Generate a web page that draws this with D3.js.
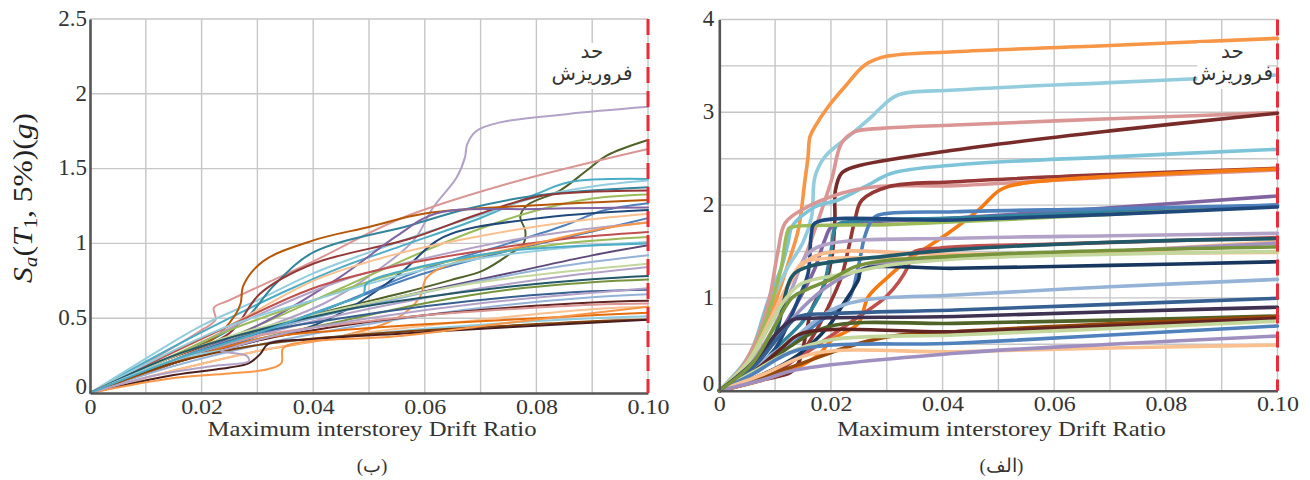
<!DOCTYPE html>
<html><head><meta charset="utf-8">
<script src="https://cdn.jsdelivr.net/npm/d3@7"></script>
<style>body{margin:0;background:#fff}svg{display:block}</style>
</head><body>
<svg id="chart" width="1310" height="480"></svg>
<script>
// ---------- data ----------
const xTicks = [0, 0.02, 0.04, 0.06, 0.08, 0.10];
const xGrid = [0.01, 0.02, 0.03, 0.04, 0.05, 0.06, 0.07, 0.08, 0.09, 0.10];
const leftYTicks = [0, 0.5, 1, 1.5, 2, 2.5];
const rightYTicks = [0, 1, 2, 3, 4];
const rightYGrid = [0.5, 1, 1.5, 2, 2.5, 3, 3.5, 4];
const collapseLimit = 0.10;
const xTitle = "Maximum interstorey Drift Ratio";
const collapseLabel = ["حد", "فروریزش"];
const panelLabels = ["(ب)", "(الف)"];

const leftSeries = [
 [[0,0],[0.015,0.22],[0.03,0.42],[0.042,0.6],[0.05,0.78],[0.058,1.02],[0.0615,1.24],[0.0657,1.44],[0.0672,1.575],[0.0676,1.664],[0.0693,1.753],[0.0735,1.809],[0.0854,1.864],[0.1,1.913]],
 [[0,0],[0.012,0.18],[0.025,0.35],[0.035,0.47],[0.045,0.57],[0.0556,0.665],[0.0645,0.753],[0.0705,0.82],[0.0753,0.931],[0.0777,0.998],[0.078,1.087],[0.0771,1.176],[0.0783,1.253],[0.0842,1.353],[0.089,1.487],[0.0926,1.587],[0.1,1.691]],
 [[0,0],[0.01,0.2],[0.02,0.42],[0.0225,0.49],[0.0222,0.57],[0.025,0.62],[0.04,0.88],[0.0556,1.165],[0.075,1.4],[0.1,1.631]],
 [[0,0],[0.012,0.25],[0.025,0.5],[0.035,0.68],[0.045,0.84],[0.0556,0.98],[0.07,1.17],[0.08,1.33],[0.086,1.41],[0.1,1.431]],
 [[0,0],[0.01,0.23],[0.02,0.45],[0.03,0.62],[0.04,0.8],[0.05,0.94],[0.06,1.07],[0.07,1.19],[0.08,1.31],[0.09,1.38],[0.1,1.42]],
 [[0,0],[0.012,0.2],[0.022,0.36],[0.028,0.5],[0.033,0.72],[0.04,0.94],[0.0573,1.12],[0.0675,1.23],[0.08,1.32],[0.1,1.376]],
 [[0,0],[0.012,0.2],[0.025,0.4],[0.0305,0.665],[0.04,0.864],[0.0573,1.031],[0.07,1.2],[0.0812,1.32],[0.1,1.353]],
 [[0,0],[0.015,0.22],[0.03,0.45],[0.045,0.7],[0.06,0.95],[0.07,1.1],[0.08,1.22],[0.09,1.3],[0.1,1.327]],
 [[0,0],[0.012,0.2],[0.022,0.36],[0.026,0.52],[0.027,0.6],[0.0275,0.72],[0.031,0.88],[0.04,1.02],[0.05,1.11],[0.06,1.2],[0.08,1.255],[0.1,1.29]],
 [[0,0],[0.015,0.2],[0.03,0.38],[0.045,0.6],[0.06,0.83],[0.075,1.0],[0.085,1.12],[0.092,1.22],[0.1,1.269]],
 [[0,0],[0.015,0.22],[0.03,0.45],[0.045,0.78],[0.055,1.05],[0.062,1.2],[0.08,1.23],[0.1,1.24]],
 [[0,0],[0.015,0.2],[0.03,0.35],[0.04,0.45],[0.048,0.6],[0.0556,0.8],[0.0633,1.042],[0.0794,1.164],[0.1,1.224]],
 [[0,0],[0.012,0.22],[0.025,0.45],[0.04,0.75],[0.055,0.93],[0.07,1.05],[0.085,1.14],[0.1,1.198]],
 [[0,0],[0.015,0.2],[0.03,0.4],[0.045,0.6],[0.06,0.8],[0.075,0.95],[0.09,1.08],[0.1,1.169]],
 [[0,0],[0.015,0.25],[0.03,0.52],[0.045,0.75],[0.06,0.9],[0.08,1.05],[0.1,1.142]],
 [[0,0],[0.012,0.22],[0.025,0.45],[0.04,0.7],[0.055,0.85],[0.07,0.95],[0.085,1.03],[0.1,1.076]],
 [[0,0],[0.015,0.15],[0.03,0.28],[0.045,0.38],[0.055,0.5],[0.0591,0.64],[0.0603,0.77],[0.0645,0.86],[0.08,1.0],[0.092,1.1],[0.1,1.14]],
 [[0,0],[0.012,0.2],[0.025,0.42],[0.04,0.62],[0.055,0.8],[0.07,0.92],[0.085,1.0],[0.1,1.042]],
 [[0,0],[0.012,0.23],[0.025,0.45],[0.04,0.62],[0.055,0.78],[0.07,0.9],[0.085,0.97],[0.1,1.009]],
 [[0,0],[0.015,0.2],[0.03,0.4],[0.045,0.55],[0.06,0.68],[0.075,0.8],[0.09,0.92],[0.1,0.987]],
 [[0,0],[0.012,0.18],[0.025,0.35],[0.04,0.5],[0.055,0.63],[0.07,0.75],[0.085,0.85],[0.1,0.92]],
 [[0,0],[0.012,0.2],[0.025,0.38],[0.04,0.52],[0.055,0.64],[0.07,0.74],[0.085,0.81],[0.1,0.864]],
 [[0,0],[0.012,0.18],[0.025,0.33],[0.04,0.48],[0.055,0.6],[0.07,0.7],[0.085,0.78],[0.1,0.842]],
 [[0,0],[0.015,0.25],[0.03,0.42],[0.045,0.55],[0.06,0.64],[0.075,0.71],[0.09,0.76],[0.1,0.782]],
 [[0,0],[0.015,0.2],[0.03,0.36],[0.045,0.48],[0.06,0.6],[0.075,0.69],[0.09,0.74],[0.1,0.758]],
 [[0,0],[0.015,0.22],[0.03,0.4],[0.045,0.5],[0.06,0.58],[0.075,0.64],[0.09,0.68],[0.1,0.691]],
 [[0,0],[0.015,0.18],[0.03,0.32],[0.045,0.43],[0.06,0.52],[0.075,0.59],[0.09,0.64],[0.1,0.66]],
 [[0,0],[0.015,0.2],[0.03,0.35],[0.045,0.45],[0.06,0.52],[0.075,0.57],[0.09,0.605],[0.1,0.616]],
 [[0,0],[0.015,0.22],[0.03,0.38],[0.045,0.46],[0.06,0.52],[0.075,0.56],[0.09,0.59],[0.1,0.598]],
 [[0,0],[0.015,0.15],[0.03,0.28],[0.045,0.38],[0.06,0.45],[0.075,0.51],[0.09,0.56],[0.1,0.576]],
 [[0,0],[0.015,0.2],[0.03,0.36],[0.045,0.42],[0.06,0.46],[0.075,0.49],[0.09,0.52],[0.1,0.536]],
 [[0,0],[0.015,0.22],[0.03,0.32],[0.045,0.38],[0.06,0.43],[0.075,0.47],[0.09,0.5],[0.1,0.513]],
 [[0,0],[0.015,0.2],[0.03,0.32],[0.045,0.38],[0.06,0.42],[0.075,0.45],[0.09,0.48],[0.1,0.491]],
 [[0,0],[0.015,0.12],[0.025,0.17],[0.0285,0.2],[0.0305,0.26],[0.032,0.33],[0.04,0.36],[0.057,0.4],[0.075,0.44],[0.1,0.489]],
 [[0,0],[0.015,0.1],[0.025,0.13],[0.032,0.16],[0.0343,0.2],[0.0346,0.3],[0.038,0.34],[0.055,0.38],[0.075,0.47],[0.1,0.576]],
 [[0,0],[0.012,0.12],[0.022,0.18],[0.0285,0.215],[0.028,0.25],[0.0235,0.28],[0.025,0.3],[0.035,0.4],[0.05,0.5],[0.07,0.6],[0.1,0.7]],
 [[0,0],[0.015,0.22],[0.03,0.4],[0.045,0.6],[0.049,0.66],[0.0495,0.73],[0.06,0.85],[0.075,0.95],[0.1,1.0]]
];
const leftColors = [
 "#B3A2C7","#4F6228","#D99694","#4BACC6","#93CDDD","#31859C","#953735","#9BBB59","#B65708","#4F81BD",
 "#8064A2","#1F497D","#FAC090","#4A7EBB","#B3A2C7","#C0504D","#F79646","#9BBB59","#93CDDD","#5F497A",
 "#95B3D7","#C3D69B","#B3A2C7","#215968","#77933C","#376092","#95B3D7","#632523","#D99694","#FAC090",
 "#E46C0A","#93CDDD","#7F3F0A","#4B1E1E","#F79646","#B3A2C7","#4BACC6"
];

const rightSeries = [
 [[0,0],[0.004,0.2],[0.007,0.5],[0.01,0.95],[0.0125,1.4],[0.01415,1.732],[0.01535,2.27],[0.0159,2.52],[0.01624,2.737],[0.01714,2.845],[0.0195,3.06],[0.0225,3.276],[0.0261,3.51],[0.0297,3.6],[0.0422,3.653],[0.07,3.72],[0.1,3.797]],
 [[0,0],[0.005,0.35],[0.0085,0.85],[0.012,1.3],[0.015,1.6],[0.01654,1.875],[0.01714,2.306],[0.0189,2.52],[0.0231,2.737],[0.0273,2.953],[0.0285,3.025],[0.032,3.186],[0.0422,3.24],[0.07,3.32],[0.1,3.402]],
 [[0,0],[0.005,0.3],[0.009,0.75],[0.012,1.1],[0.015,1.4],[0.0171,1.732],[0.0201,2.27],[0.0219,2.666],[0.0243,2.791],[0.0291,2.827],[0.0422,2.863],[0.07,2.93],[0.1,2.996]],
 [[0,0],[0.008,0.12],[0.0128,0.2],[0.0142,0.3],[0.0155,0.6],[0.0165,0.87],[0.0189,1.157],[0.0201,1.41],[0.0207,1.84],[0.0208,2.16],[0.0219,2.343],[0.0243,2.414],[0.0422,2.594],[0.07,2.8],[0.1,2.99]],
 [[0,0],[0.004,0.25],[0.0052,0.33],[0.0088,0.98],[0.0112,1.34],[0.01235,1.6],[0.013,1.767],[0.0171,1.98],[0.0213,2.055],[0.0261,2.198],[0.0309,2.343],[0.0422,2.432],[0.07,2.52],[0.1,2.601]],
 [[0,0],[0.004,0.25],[0.007,0.6],[0.009,1.0],[0.0105,1.5],[0.01176,1.804],[0.01475,1.947],[0.0219,2.127],[0.0279,2.198],[0.0422,2.21],[0.07,2.3],[0.1,2.38]],
 [[0,0],[0.008,0.14],[0.0141,0.37],[0.0171,0.62],[0.0195,0.9],[0.0219,1.23],[0.0231,1.52],[0.0243,1.84],[0.0255,2.05],[0.0303,2.198],[0.0422,2.252],[0.07,2.33],[0.1,2.396]],
 [[0,0],[0.008,0.12],[0.014,0.25],[0.018,0.4],[0.0201,0.546],[0.0249,0.726],[0.0267,1.013],[0.0303,1.229],[0.0338,1.408],[0.041,1.696],[0.0465,1.95],[0.0503,2.163],[0.0544,2.235],[0.1,2.39]],
 [[0,0],[0.006,0.25],[0.01,0.55],[0.014,0.95],[0.017,1.3],[0.0189,1.624],[0.0201,1.767],[0.0231,1.804],[0.0422,1.86],[0.07,1.97],[0.1,2.098]],
 [[0,0],[0.006,0.2],[0.01,0.45],[0.015,0.75],[0.0185,1.1],[0.02,1.5],[0.021,1.78],[0.025,1.83],[0.0422,1.86],[0.07,1.93],[0.1,2.001]],
 [[0,0],[0.005,0.3],[0.008,0.7],[0.011,1.3],[0.0125,1.75],[0.0135,1.77],[0.03,1.79],[0.0422,1.82],[0.07,1.9],[0.1,1.995]],
 [[0,0],[0.006,0.18],[0.012,0.45],[0.018,0.75],[0.0231,0.977],[0.0249,1.336],[0.026,1.65],[0.0273,1.84],[0.0285,1.893],[0.0422,1.929],[0.07,1.96],[0.1,2.0]],
 [[0,0],[0.006,0.2],[0.01,0.45],[0.0141,0.977],[0.0159,1.265],[0.0165,1.696],[0.0171,1.804],[0.0422,1.84],[0.07,1.9],[0.1,1.98]],
 [[0,0],[0.005,0.25],[0.009,0.6],[0.013,1.1],[0.0159,1.48],[0.0201,1.588],[0.0422,1.642],[0.07,1.67],[0.1,1.696]],
 [[0,0],[0.008,0.18],[0.014,0.35],[0.019,0.55],[0.025,0.8],[0.03,1.02],[0.0338,1.336],[0.0345,1.48],[0.04,1.54],[0.06,1.58],[0.1,1.65]],
 [[0,0],[0.005,0.3],[0.009,0.7],[0.012,1.1],[0.0148,1.373],[0.018,1.42],[0.0422,1.427],[0.07,1.5],[0.1,1.606]],
 [[0,0],[0.006,0.25],[0.01,0.55],[0.015,0.9],[0.02,1.15],[0.025,1.3],[0.03,1.38],[0.0422,1.43],[0.07,1.5],[0.1,1.59]],
 [[0,0],[0.005,0.3],[0.009,0.75],[0.013,1.2],[0.0171,1.45],[0.0422,1.47],[0.1,1.491]],
 [[0,0],[0.006,0.25],[0.01,0.6],[0.013,1.229],[0.0159,1.336],[0.03,1.45],[0.0422,1.52],[0.07,1.6],[0.1,1.64]],
 [[0,0],[0.008,0.18],[0.014,0.38],[0.0195,0.69],[0.0219,0.905],[0.0249,1.193],[0.0255,1.3],[0.0422,1.319],[0.07,1.35],[0.1,1.39]],
 [[0,0],[0.005,0.3],[0.009,0.7],[0.012,1.0],[0.0148,1.157],[0.0231,1.265],[0.03,1.35],[0.0422,1.42],[0.07,1.47],[0.1,1.5]],
 [[0,0],[0.006,0.25],[0.012,0.5],[0.0201,0.87],[0.0261,0.977],[0.0422,1.031],[0.07,1.12],[0.1,1.2]],
 [[0,0],[0.006,0.25],[0.0112,0.618],[0.0141,0.797],[0.02,0.83],[0.0422,0.87],[0.07,0.93],[0.1,0.996]],
 [[0,0],[0.006,0.2],[0.012,0.45],[0.0195,0.69],[0.0422,0.726],[0.07,0.76],[0.1,0.805]],
 [[0,0],[0.008,0.15],[0.015,0.3],[0.0231,0.474],[0.03,0.58],[0.0422,0.636],[0.07,0.72],[0.1,0.8]],
 [[0,0],[0.006,0.2],[0.011,0.45],[0.0148,0.618],[0.0422,0.636],[0.07,0.7],[0.1,0.78]],
 [[0,0],[0.006,0.2],[0.012,0.4],[0.02,0.55],[0.0422,0.6],[0.07,0.67],[0.1,0.75]],
 [[0,0],[0.006,0.18],[0.0141,0.439],[0.0422,0.511],[0.07,0.6],[0.1,0.697]],
 [[0,0],[0.008,0.18],[0.0171,0.403],[0.0422,0.42],[0.07,0.46],[0.1,0.492]],
 [[0,0],[0.008,0.12],[0.0136,0.223],[0.0422,0.403],[0.07,0.5],[0.1,0.589]],
 [[0,0],[0.006,0.3],[0.01,0.6],[0.013,0.762],[0.0159,0.78],[0.0422,0.8],[0.07,0.85],[0.1,0.9]],
 [[0,0],[0.006,0.3],[0.01,0.7],[0.013,1.0],[0.016,1.1],[0.02,1.2],[0.025,1.35],[0.0422,1.45],[0.1,1.55]]
];
const rightColors = [
 "#F79646","#93CDDD","#D99694","#772C2A","#7DC4D8","#D99694","#953735","#F57A12","#8064A2","#31859C",
 "#9BBB59","#4F81BD","#1F497D","#B3A2C7","#C0504D","#FAC090","#A092C0","#F9B98A","#215968","#17375E",
 "#C3D69B","#95B3D7","#376092","#4F6228","#984807","#632523","#C3D69B","#4F81BD","#FAC090","#9F8FC0",
 "#3F3151","#77933C"
];

// ---------- drawing ----------
const svg = d3.select("#chart");
const serif = "'Liberation Serif','Times New Roman',serif";
const arabicFont = "'DejaVu Sans','Noto Sans',sans-serif";

function drawPanel(cfg) {
  const x = d3.scaleLinear().domain([0, 0.10]).range([cfg.left, cfg.right]);
  const y = d3.scaleLinear().domain([0, cfg.yMax]).range([cfg.bottom, cfg.top]);
  const g = svg.append("g");

  // grid
  g.append("g").selectAll("line").data(xGrid).join("line")
    .attr("x1", d => x(d)).attr("x2", d => x(d))
    .attr("y1", y(0)).attr("y2", y(cfg.yMax))
    .attr("stroke", "#c6c6c6").attr("stroke-width", 1.4);
  g.append("g").selectAll("line").data(cfg.yGrid).join("line")
    .attr("x1", x(0)).attr("x2", x(0.10))
    .attr("y1", d => y(d)).attr("y2", d => y(d))
    .attr("stroke", "#c6c6c6").attr("stroke-width", 1.4);

  // curves
  const line = d3.line().x(d => x(d[0])).y(d => y(d[1])).curve(d3.curveCatmullRom.alpha(0.5));
  g.append("g").selectAll("path").data(cfg.series).join("path")
    .attr("d", line)
    .attr("fill", "none")
    .attr("stroke", (d, i) => cfg.colors[i])
    .attr("stroke-width", cfg.lw)
    .attr("stroke-linejoin", "round").attr("stroke-linecap", "round");

  // axes
  const xAxis = d3.axisBottom(x).tickValues(xTicks)
    .tickFormat(d => d === 0 ? "0" : d3.format(".2f")(d)).tickSize(0).tickPadding(5);
  const gx = g.append("g").attr("transform", `translate(0,${cfg.bottom})`).call(xAxis);
  gx.select(".domain").attr("stroke", "#555").attr("stroke-width", 2.6);
  gx.selectAll("text").attr("font-family", serif).attr("font-size", 22).attr("fill", "#333")
    .attr("transform", "scale(1.09,1)");

  const yAxis = d3.axisLeft(y).tickValues(cfg.yTicks).tickFormat(d3.format("")).tickSize(0).tickPadding(cfg.yPad);
  const gy = g.append("g").attr("transform", `translate(${cfg.left},0)`).call(yAxis);
  gy.select(".domain").attr("stroke", "#555").attr("stroke-width", 2.6);
  gy.selectAll("text").attr("font-family", serif).attr("font-size", 23).attr("fill", "#333")
    .attr("dy", d => d === 0 ? "0em" : "0.27em");

  // collapse limit
  g.append("line")
    .attr("x1", x(collapseLimit)).attr("x2", x(collapseLimit))
    .attr("y1", y(cfg.yMax)).attr("y2", y(0))
    .attr("stroke", "#EC2B36").attr("stroke-width", 3).attr("stroke-dasharray", "16,8");

  // annotation box
  const bx = x(collapseLimit) - cfg.boxOffset;
  g.append("rect").attr("x", bx - 35).attr("y", 43).attr("width", 70).attr("height", 46).attr("fill", "#fff");
  g.append("text").attr("x", bx).attr("y", 58).attr("text-anchor", "middle")
    .attr("font-family", arabicFont).attr("font-size", 20).attr("fill", "#333").text(collapseLabel[0]);
  g.append("text").attr("x", bx).attr("y", 80).attr("text-anchor", "middle")
    .attr("font-family", arabicFont).attr("font-size", 20).attr("fill", "#333").text(collapseLabel[1]);

  // titles
  const cx = (cfg.left + cfg.right) / 2 + 3;
  g.append("text").attr("x", cx).attr("y", 436).attr("text-anchor", "middle")
    .attr("font-family", serif).attr("font-size", 22).attr("fill", "#333")
    .attr("textLength", 329).attr("lengthAdjust", "spacingAndGlyphs").text(xTitle);
  g.append("text").attr("x", cx).attr("y", 472).attr("text-anchor", "middle")
    .attr("font-family", serif).attr("font-size", 19).attr("fill", "#333").text(cfg.label);
}

drawPanel({left: 90, right: 648, top: 19, bottom: 393, yMax: 2.5,
  yTicks: leftYTicks, yGrid: leftYTicks.filter(d => d > 0), yPad: 3, boxOffset: 56,
  series: leftSeries, colors: leftColors, lw: 2, label: panelLabels[0]});
drawPanel({left: 719.3, right: 1277.5, top: 19.5, bottom: 390.7, yMax: 4,
  yTicks: rightYTicks, yGrid: rightYGrid, yPad: 5, boxOffset: 45,
  series: rightSeries, colors: rightColors, lw: 3.6, label: panelLabels[1]});

// y-axis title (left panel)
const yt = svg.append("text").attr("transform", "translate(32,198) rotate(-90)")
  .attr("text-anchor", "middle").attr("font-family", serif).attr("font-size", 28).attr("fill", "#222")
  .attr("textLength", 170).attr("lengthAdjust", "spacingAndGlyphs");
yt.append("tspan").attr("font-style", "italic").text("S");
yt.append("tspan").attr("font-style", "italic").attr("font-size", 19).attr("dy", 5).text("a");
yt.append("tspan").attr("dy", -5).text("(");
yt.append("tspan").attr("font-style", "italic").text("T");
yt.append("tspan").attr("font-size", 19).attr("dy", 5).text("1");
yt.append("tspan").attr("dy", -5).text(", 5%)(");
yt.append("tspan").attr("font-style", "italic").text("g");
yt.append("tspan").text(")");
</script>
</body></html>
